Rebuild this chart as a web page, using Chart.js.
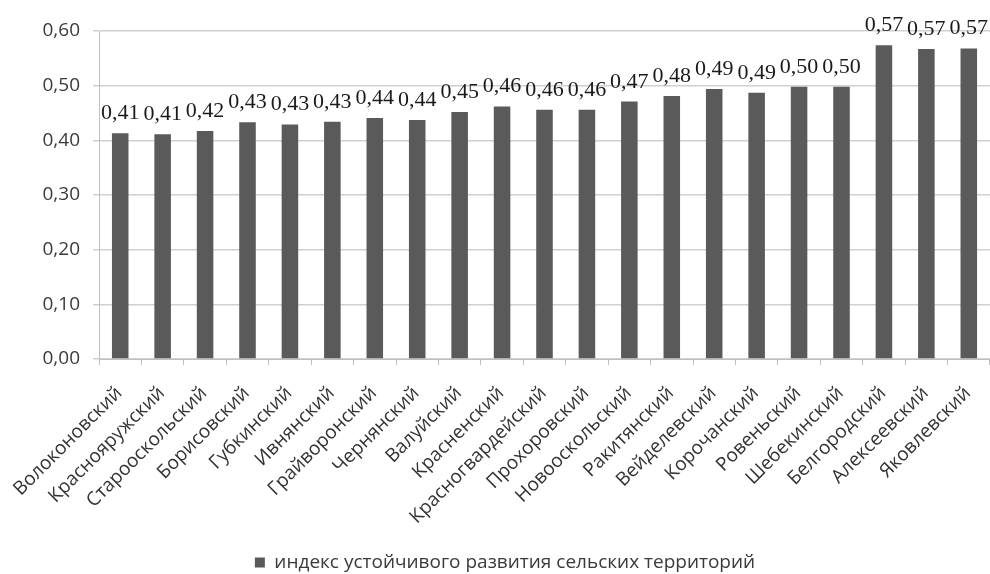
<!DOCTYPE html>
<html>
<head>
<meta charset="utf-8">
<script src="https://cdn.jsdelivr.net/npm/chart.js@4/dist/chart.umd.min.js"></script>
<style>
  html, body { margin: 0; padding: 0; background: #fff; }
  #wrap { width: 990px; height: 574px; position: relative; }
</style>
</head>
<body>
<div id="wrap"><canvas id="c" width="990" height="574"></canvas></div>
<script>
// Districts of Belgorod region
const districts = [
  'Волоконовский', 'Краснояружский', 'Старооскольский', 'Борисовский',
  'Губкинский', 'Ивнянский', 'Грайворонский', 'Чернянский', 'Валуйский',
  'Красненский', 'Красногвардейский', 'Прохоровский', 'Новооскольский',
  'Ракитянский', 'Вейделевский', 'Корочанский', 'Ровеньский',
  'Шебекинский', 'Белгородский', 'Алексеевский', 'Яковлевский'
];

// Sustainable rural development index
const indexValues = [
  0.413, 0.411, 0.417, 0.433, 0.429, 0.434, 0.441, 0.437, 0.452,
  0.462, 0.456, 0.456, 0.471, 0.481, 0.494, 0.487, 0.498,
  0.498, 0.574, 0.567, 0.568
];

const seriesName = 'индекс устойчивого развития сельских территорий';
const yTicks = [0, 0.1, 0.2, 0.3, 0.4, 0.5, 0.6];

const fmt = v => v.toFixed(2).replace('.', ',');

// Value labels above each bar
const valueLabels = {
  id: 'valueLabels',
  afterDatasetsDraw(chart) {
    const ctx = chart.ctx;
    const meta = chart.getDatasetMeta(0);
    ctx.save();
    ctx.font = '22px "Liberation Serif", "DejaVu Serif", serif';
    ctx.fillStyle = '#1a1a1a';
    ctx.textAlign = 'center';
    ctx.textBaseline = 'alphabetic';
    meta.data.forEach((bar, i) => {
      ctx.fillText(fmt(indexValues[i]), bar.x, bar.y - 14);
    });
    ctx.restore();
  }
};

// Nudge the legend a little to the right of the canvas centre
const legendShift = {
  id: 'legendShift',
  afterLayout(chart) {
    if (chart.legend) {
      chart.legend.left += 10;
      chart.legend.right += 10;
    }
  }
};

new Chart(document.getElementById('c'), {
  type: 'bar',
  data: {
    labels: districts,
    datasets: [{
      label: seriesName,
      data: indexValues,
      backgroundColor: '#5a5a5a',
      borderWidth: 0,
      barPercentage: 0.39,
      categoryPercentage: 1.0
    }]
  },
  options: {
    responsive: false,
    animation: false,
    devicePixelRatio: 1,
    layout: { padding: { top: 31, right: 0, bottom: -8, left: 0 } },
    plugins: {
      legend: {
        position: 'bottom',
        labels: {
          boxWidth: 10,
          boxHeight: 10,
          padding: 6,
          color: '#3a3a3a',
          font: { family: '"Open Sans", sans-serif', size: 19 }
        }
      },
      tooltip: { enabled: false }
    },
    scales: {
      x: {
        grid: {
          offset: true,
          drawOnChartArea: false,
          drawTicks: true,
          tickLength: 6,
          color: '#bfbfbf'
        },
        border: { color: '#bfbfbf' },
        ticks: {
          minRotation: 45,
          maxRotation: 45,
          autoSkip: false,
          padding: 17,
          labelOffset: -1,
          color: '#333333',
          font: { family: '"Open Sans", sans-serif', size: 19 }
        },
        afterFit(scale) {
          scale.height = 188;
          scale.paddingLeft = 0;
          scale.paddingRight = 0;
        }
      },
      y: {
        min: 0,
        max: 0.6,
        afterBuildTicks(scale) { scale.ticks = yTicks.map(v => ({ value: v })); },
        grid: {
          color: '#d0d0d0',
          lineWidth: 1.5,
          drawTicks: true,
          tickLength: 6
        },
        border: { color: '#bfbfbf' },
        ticks: {
          padding: 13,
          color: '#3a3a3a',
          font: { family: '"Open Sans", sans-serif', size: 19 },
          callback: v => fmt(v)
        },
        afterFit(scale) { scale.width = 99; }
      }
    }
  },
  plugins: [valueLabels, legendShift]
});
</script>
</body>
</html>
